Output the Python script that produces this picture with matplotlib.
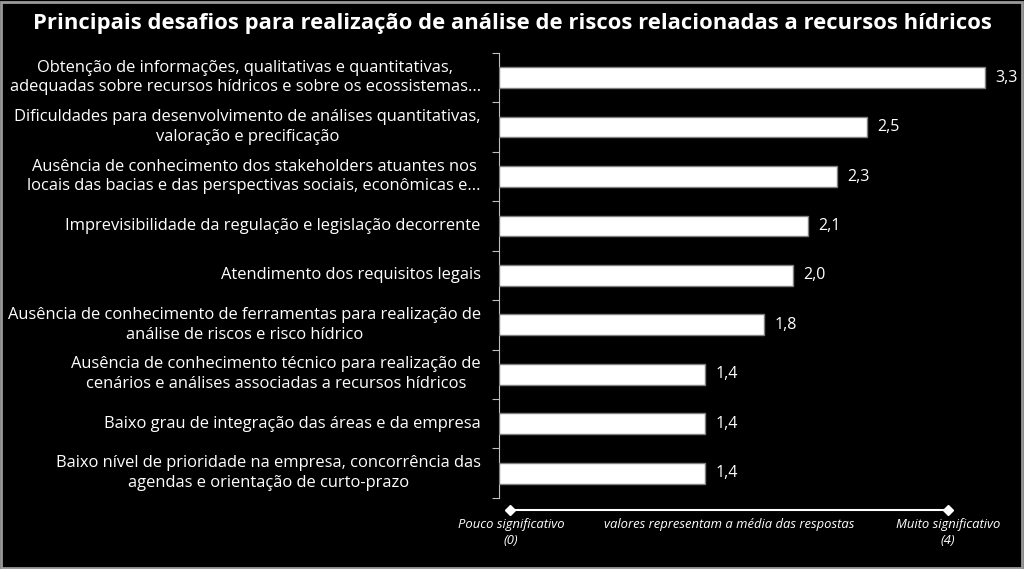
import matplotlib
matplotlib.use("Agg")
import matplotlib.pyplot as plt
from matplotlib.patches import Rectangle
from matplotlib.transforms import offset_copy

categories = [
    "Obtenção de informações, qualitativas e quantitativas,\nadequadas sobre recursos hídricos e sobre os ecossistemas...",
    "Dificuldades para desenvolvimento de análises quantitativas,\nvaloração e precificação",
    "Ausência de conhecimento dos stakeholders atuantes nos\nlocais das bacias e das perspectivas sociais, econômicas e...",
    "Imprevisibilidade da regulação e legislação decorrente",
    "Atendimento dos requisitos legais",
    "Ausência de conhecimento de ferramentas para realização de\nanálise de riscos e risco hídrico",
    "Ausência de conhecimento técnico para realização de\ncenários e análises associadas a recursos hídricos",
    "Baixo grau de integração das áreas e da empresa",
    "Baixo nível de prioridade na empresa, concorrência das\nagendas e orientação de curto-prazo",
]
values = [3.3, 2.5, 2.3, 2.1, 2.0, 1.8, 1.4, 1.4, 1.4]
value_labels = ["3,3", "2,5", "2,3", "2,1", "2,0", "1,8", "1,4", "1,4", "1,4"]

FONT = "Open Sans"
plt.rcParams.update({"font.family": FONT, "text.color": "white"})

fig = plt.figure(figsize=(10.24, 5.69), dpi=100)
fig.patch.set_facecolor("black")
fig.patches.append(Rectangle((0.001, 0.002), 0.997, 0.995, transform=fig.transFigure,
                             fill=False, edgecolor="#9a9a9a", lw=2))

ax = fig.add_axes([0.487, 0.125, 0.499, 0.782])
ax.set_facecolor("black")
n = len(values)
ypos = list(range(n))[::-1]
ax.barh(ypos, values, height=0.42, color="white", edgecolor="#808080", lw=1, zorder=3)
for y, v, t in zip(ypos, values, value_labels):
    ax.text(v + 0.07, y, t, va="center", ha="left", color="white", fontsize=11.5)

ax.set_xlim(0, 3.47)
ax.set_ylim(-0.5, n - 0.5)
for s in ("top", "right", "bottom"):
    ax.spines[s].set_visible(False)
ax.spines["left"].set_color("#bfbfbf")
ax.set_xticks([])
ax.set_yticks([y - 0.5 for y in range(n + 1)])
ax.set_yticklabels([])
ax.tick_params(axis="y", length=5, color="#bfbfbf", direction="out")
lab_tr = offset_copy(ax.transData, fig=fig, x=-18, y=0, units="dots")
for y, c in zip(ypos, categories):
    ax.text(0, y, c, ha="right", va="center", multialignment="center", color="white",
            fontsize=11.9, linespacing=1.3, transform=lab_tr)

fig.text(0.5, 0.958, "Principais desafios para realização de análise de riscos relacionadas a recursos hídricos",
         ha="center", va="center", fontsize=15.8, fontweight="bold", color="white")

# scale line at the bottom
y0 = 1 - 510 / 569
fig.add_artist(plt.Line2D([510 / 1024, 948 / 1024], [y0, y0], color="white", lw=1.5,
                          transform=fig.transFigure))
fig.add_artist(plt.Line2D([510 / 1024, 948 / 1024], [y0, y0], color="white", lw=0,
                          marker="D", ms=5, transform=fig.transFigure))
ty = 1 - 518 / 569
fig.text(511 / 1024, ty, "Pouco significativo\n(0)", ha="center", va="top",
         fontsize=9.4, style="italic", color="white", linespacing=1.3)
fig.text(948 / 1024, ty, "Muito significativo\n(4)", ha="center", va="top",
         fontsize=9.4, style="italic", color="white", linespacing=1.3)
fig.text(729 / 1024, ty, "valores representam a média das respostas", ha="center", va="top",
         fontsize=9.4, style="italic", color="white")

fig.savefig("out.png", facecolor="black")
